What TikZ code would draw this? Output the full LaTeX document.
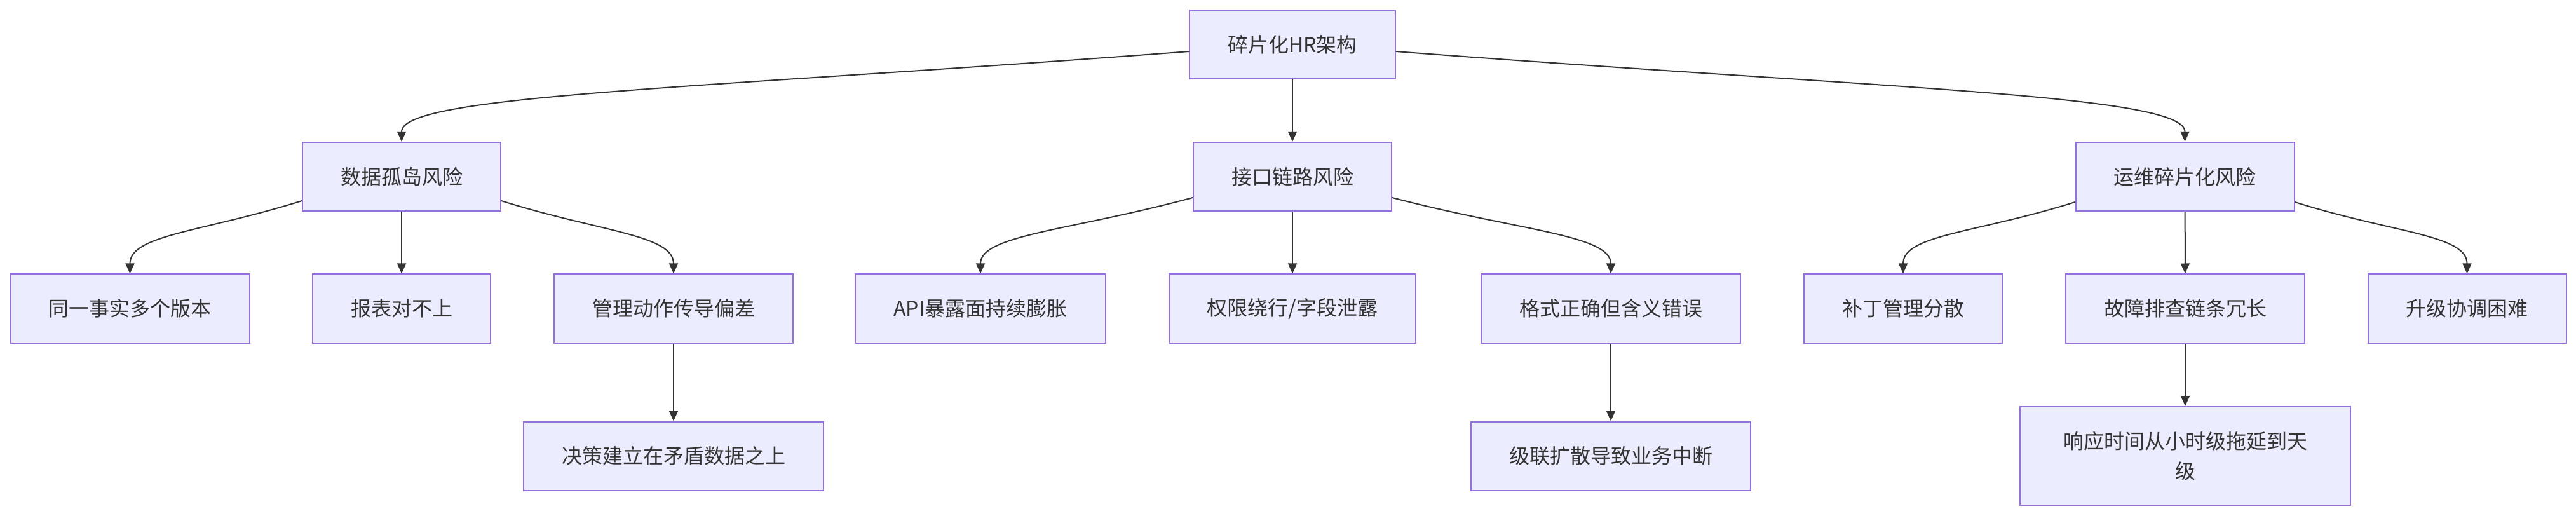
\documentclass[tikz,border=0pt]{standalone}
\usepackage{fontspec}
\setmainfont{Noto Sans CJK SC}
\usepackage{xcolor}
\usepackage{tikz}
\usetikzlibrary{arrows.meta}
\definecolor{boxfill}{HTML}{ECECFF}
\definecolor{boxline}{HTML}{9370DB}
\definecolor{ink}{HTML}{333333}

\begin{document}
\begin{tikzpicture}[x=1pt,y=1pt,
	box/.style={draw=boxline,fill=boxfill,line width=1pt,inner xsep=30pt,inner ysep=0pt,
		minimum height=54pt,text=ink,align=center,font=\fontsize{16pt}{23.5pt}\selectfont},
	link/.style={draw=ink,line width=1pt,-{Triangle[length=8pt,width=7pt]}}]
	\useasboundingbox (0,0) rectangle (2027,-406);
	\node[box] (root) at (1017,-35)     {碎片化HR架构};
	\node[box] (silo) at (316,-139)     {数据孤岛风险};
	\node[box] (link) at (1017,-139)    {接口链路风险};
	\node[box] (ops)  at (1719.25,-139) {运维碎片化风险};
	\node[box] (silo1) at (102.25,-242.75) {同一事实多个版本};
	\node[box] (silo2) at (316,-242.75)    {报表对不上};
	\node[box] (silo3) at (530,-242.75)    {管理动作传导偏差};
	\node[box] (silo4) at (530,-358.75)    {决策建立在矛盾数据之上};
	\node[box] (link1) at (771.5,-242.75)  {API暴露面持续膨胀};
	\node[box] (link2) at (1017,-242.75)   {权限绕行/字段泄露};
	\node[box] (link3) at (1267.5,-242.75) {格式正确但含义错误};
	\node[box] (link4) at (1267.5,-358.75) {级联扩散导致业务中断};
	\node[box] (ops1) at (1497.5,-242.75)  {补丁管理分散};
	\node[box] (ops2) at (1719.5,-242.75)  {故障排查链条冗长};
	\node[box] (ops3) at (1941.25,-242.75) {升级协调困难};
	\node[box,text width=200pt,minimum height=77.5pt] (ops4) at (1719.5,-358.75) {响应时间从小时级拖延到天\\级};
	\draw[link] ([yshift=-5.5pt]root.west) .. controls +(-387,-29.5) and +(0,37) .. (silo.north);
	\draw[link] (root) -- (link);
	\draw[link] ([yshift=-5.5pt]root.east) .. controls +(387,-29.5) and +(0,37) .. (ops.north);
	\draw[link] ([yshift=-19pt]silo.west) .. controls +(-78,-24.5) and +(0,30.5) .. (silo1.north);
	\draw[link] (silo) -- (silo2);
	\draw[link] ([yshift=-19pt]silo.east) .. controls +(78,-24.5) and +(0,30.5) .. (silo3.north);
	\draw[link] (silo3) -- (silo4);
	\draw[link] ([yshift=-16.5pt]link.west) .. controls +(-96,-26) and +(0,30.5) .. (link1.north);
	\draw[link] (link) -- (link2);
	\draw[link] ([yshift=-16.5pt]link.east) .. controls +(99,-26) and +(0,30.5) .. (link3.north);
	\draw[link] (link3) -- (link4);
	\draw[link] ([yshift=-20pt]ops.west) .. controls +(-78,-24.5) and +(0,30.5) .. (ops1.north);
	\draw[link] (ops) -- (ops2);
	\draw[link] ([yshift=-20pt]ops.east) .. controls +(78,-24.5) and +(0,30.5) .. (ops3.north);
	\draw[link] (ops2) -- (ops4);
\end{tikzpicture}
\end{document}
